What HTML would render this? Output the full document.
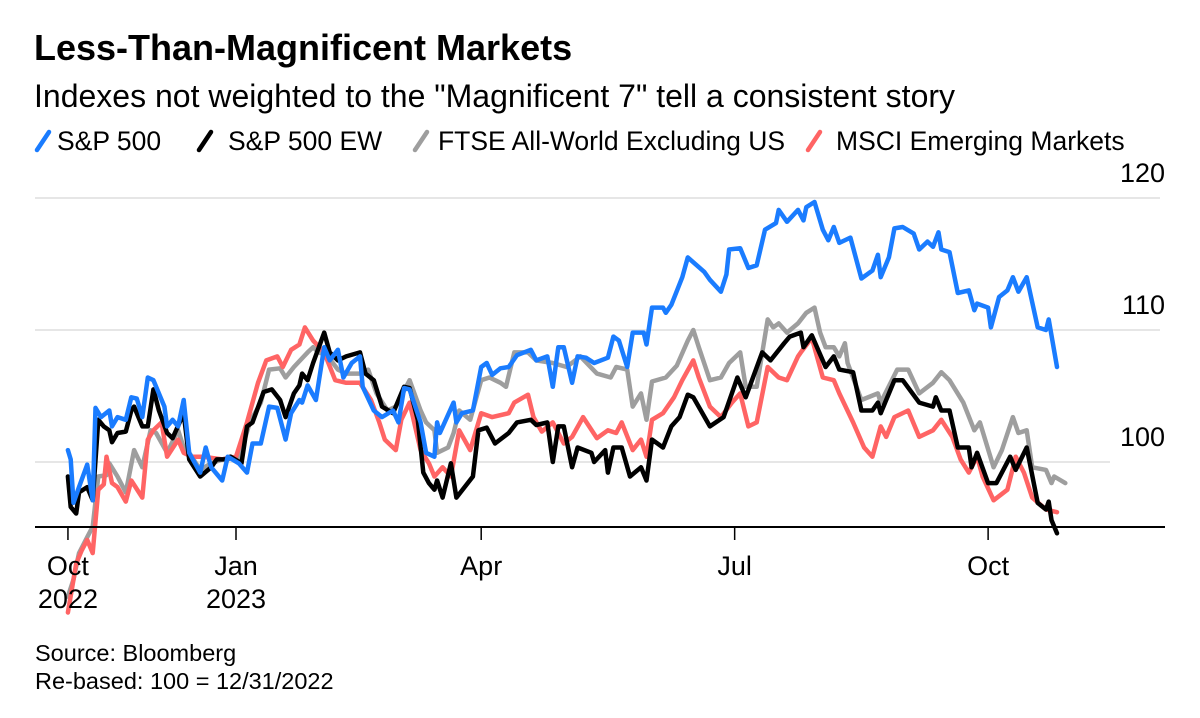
<!DOCTYPE html>
<html><head><meta charset="utf-8">
<style>
body{margin:0;background:#fff;width:1200px;height:713px;overflow:hidden;font-family:"Liberation Sans",Arial,sans-serif;}
svg text{font-family:"Liberation Sans",Arial,sans-serif;}
</style></head>
<body>
<svg id="chart" width="1200" height="713" viewBox="0 0 1200 713">
<text x="34" y="60" font-size="36" font-weight="bold" fill="#000">Less-Than-Magnificent Markets</text>
<text x="34" y="107" font-size="32" fill="#000">Indexes not weighted to the "Magnificent 7" tell a consistent story</text>
<g id="legend"></g>
<g id="grid"></g>
<g id="series"></g>
<g id="axes"></g>
<text x="35" y="661" font-size="23.5" fill="#000">Source: Bloomberg</text>
<text x="35" y="689" font-size="23.5" fill="#000">Re-based: 100 = 12/31/2022</text>
</svg>
<script>
// days relative to Jan 1 2023
const spxDays=[-61,-60,-59,-57,-54,-52,-51,-49,-46,-45,-43,-40,-38,-36,-34,-32,-30,-26,-25,-23,-21,-19,-17,-13,-11,-9,-5,-3,1,4,6,9,12,15,18,20,23,24,26,29,32,34,37,39,42,45,46,50,53,57,59,61,63,67,69,72,73,74,79,80,82,86,89,91,93,96,99,102,107,109,113,115,117,119,122,124,127,130,135,137,139,142,144,148,149,151,155,156,158,162,164,170,172,176,178,179,183,186,189,192,196,197,200,204,206,207,210,213,215,217,219,223,227,231,233,234,237,239,242,246,248,251,253,255,256,259,262,266,268,269,273,274,277,280,282,284,287,291,294,295,298];
const spxVals=[100.9,100.2,96.9,98.1,99.8,97.1,104.1,103.4,103.9,102.7,103.4,103.2,104.9,104.8,103.4,106.4,106.2,104.2,102.7,103.2,102.7,104.7,100.7,99.2,101.1,99.6,98.6,100.4,99.9,99.2,101.4,101.4,104.2,104.1,101.7,103.7,104.7,104.5,105.8,104.7,108.7,107.7,108.5,106.4,107.5,108.0,105.7,103.9,103.4,103.9,103.0,105.6,105.5,103.0,100.7,100.4,103.0,102.2,104.5,103.0,103.7,103.9,107.2,107.5,106.6,107.1,107.2,108.1,108.5,107.7,108.0,105.7,108.7,108.7,106.0,108.0,107.9,107.5,107.9,109.5,109.2,107.2,109.8,109.8,108.9,111.7,111.7,111.3,111.9,114.0,115.5,114.4,113.8,112.9,114.2,116.1,116.2,114.7,114.9,117.6,118.1,119.1,118.2,119.1,118.3,119.3,119.7,117.6,116.8,117.8,116.6,117.0,113.9,114.5,115.7,114.0,115.5,117.7,117.8,117.3,116.1,116.7,116.3,117.4,116.1,115.9,112.8,113.0,111.5,112.0,111.7,110.2,112.5,113.0,114.0,112.9,114.0,110.2,110.0,110.8,107.2];
const ewDays=[-61,-60,-58,-57,-54,-52,-50,-48,-46,-45,-43,-40,-38,-37,-34,-32,-30,-28,-25,-23,-19,-17,-13,-9,-7,-3,-2,2,4,6,10,13,16,18,21,23,24,26,28,32,34,37,40,45,47,50,53,57,61,63,66,68,70,72,73,75,78,80,86,88,91,94,99,102,107,109,113,115,117,119,122,124,129,130,134,135,137,140,143,147,149,151,155,158,161,164,166,172,177,182,185,191,194,199,201,205,206,209,214,217,219,224,227,231,233,234,239,242,248,253,254,256,259,262,266,267,269,273,276,281,283,287,291,294,295,296,298];
const ewVals=[98.9,96.6,96.1,97.7,98.1,97.1,103.2,102.7,102.4,101.5,102.2,102.3,103.9,104.2,102.7,102.7,105.5,103.9,102.2,101.8,103.7,100.2,98.9,99.6,100.2,100.2,100.4,99.9,102.7,103.0,105.3,105.5,104.7,103.4,105.2,105.8,106.7,106.2,107.5,109.8,108.3,107.7,108.0,108.3,106.7,106.2,104.2,103.7,105.7,105.6,103.2,99.2,98.4,97.9,98.6,97.3,99.9,97.3,98.9,102.4,102.6,101.4,102.2,103.0,103.2,102.8,103.0,100.0,102.7,102.7,99.6,101.1,100.7,100.0,100.9,99.2,101.1,101.1,98.9,99.6,98.6,101.7,101.1,102.7,103.4,105.1,104.9,102.7,103.4,106.4,104.9,108.3,107.7,109.0,109.5,109.8,108.7,109.6,107.2,108.0,107.0,106.8,103.9,103.9,104.5,103.7,106.2,106.2,104.5,104.2,104.9,103.9,103.9,101.1,101.1,99.6,100.7,98.4,98.4,100.4,99.4,101.1,96.9,96.4,97.0,95.6,94.6];
const ftseDays=[-61,-59,-57,-54,-52,-50,-47,-46,-43,-40,-37,-34,-31,-29,-25,-21,-19,-17,-13,-9,-2,1,5,9,12,16,18,21,26,28,30,33,37,40,45,48,51,55,58,63,67,69,72,73,77,79,81,85,89,92,96,98,101,106,109,115,120,125,131,136,138,142,144,147,149,151,156,160,164,166,168,172,176,179,183,185,189,193,195,197,200,204,207,210,212,214,217,219,221,222,227,233,234,240,244,248,253,256,259,264,268,270,275,278,282,284,287,289,294,296,297,301];
const ftseVals=[89.8,91.1,93.1,94.3,95.1,98.9,99.0,99.9,98.9,97.7,100.9,99.6,102.4,102.2,100.7,102.4,101.1,100.7,99.4,99.9,100.4,100.2,103.0,104.5,107.0,107.1,106.4,107.2,108.3,108.7,108.3,108.1,107.0,106.7,106.7,107.0,105.2,103.9,104.2,106.2,103.9,103.0,102.4,100.7,101.1,102.2,103.9,103.2,106.2,106.4,106.0,105.7,108.3,108.3,107.7,107.5,107.2,108.0,106.7,106.4,107.2,107.0,104.2,105.2,103.2,106.1,106.4,107.3,109.2,110.0,108.7,106.2,106.4,107.5,108.3,105.7,105.7,110.8,110.2,110.5,109.8,110.5,111.3,111.7,109.8,108.7,108.7,108.0,109.0,107.5,104.7,105.2,104.5,107.0,107.0,105.2,106.0,106.8,106.2,104.5,102.4,103.0,99.6,100.9,103.4,102.2,102.4,99.6,99.4,98.4,98.9,98.4];
const emDays=[-61,-58,-56,-54,-52,-50,-48,-47,-45,-43,-40,-38,-34,-32,-30,-27,-25,-21,-19,-16,-12,-5,0,4,8,11,15,17,20,23,25,28,32,36,40,45,49,52,54,58,60,63,67,70,72,75,78,81,85,89,93,99,101,106,108,111,115,119,122,126,131,135,138,140,144,147,149,151,155,159,162,166,168,172,176,180,183,186,189,193,197,200,204,205,209,213,217,219,224,228,231,234,236,239,244,248,253,256,260,263,266,269,271,275,280,283,286,289,294,298];
const emVals=[88.6,92.3,93.3,94.1,93.1,97.9,98.3,100.4,98.4,98.1,97.0,98.6,97.3,101.7,102.4,103.0,100.4,101.7,100.7,100.4,100.4,100.2,100.4,103.0,106.0,107.7,108.0,107.2,108.5,108.9,110.2,109.2,108.3,106.2,106.0,106.0,104.7,103.0,101.7,100.9,103.2,104.5,100.9,99.9,98.9,99.6,98.9,102.4,100.9,103.7,103.4,103.7,104.5,105.1,103.4,102.3,103.0,101.4,101.9,103.4,101.8,102.4,102.2,103.0,100.9,101.7,100.4,103.2,103.7,104.9,106.2,107.7,106.4,104.2,103.4,104.5,105.2,102.7,103.0,107.2,106.4,106.2,108.0,108.3,109.4,106.4,106.2,105.2,103.0,101.1,100.4,102.7,101.9,103.4,103.9,101.9,102.4,103.2,101.9,100.2,99.2,100.4,98.9,97.1,97.9,100.4,99.2,97.3,96.4,96.2];
const yTicks=[100,110,120];
const xTickDays=[-61,0,89,181,273];
const xTickLabels=[["Oct","2022"],["Jan","2023"],["Apr",""],["Jul",""],["Oct",""]];

const NS="http://www.w3.org/2000/svg";
function xS(d){return 236+d*2.755;}
function yS(v){return 462-(v-100)*13.2;}
function mk(tag,attrs,parent){const e=document.createElementNS(NS,tag);for(const k in attrs)e.setAttribute(k,attrs[k]);parent.appendChild(e);return e;}
const grid=document.getElementById('grid'),axes=document.getElementById('axes'),ser=document.getElementById('series'),leg=document.getElementById('legend');
yTicks.forEach(function(t){
  const l=mk('line',{x1:35,x2:t===100?1110:1160,y1:yS(t),y2:yS(t),stroke:'#e6e6e6','stroke-width':2},grid);
  
  
  const tx=mk('text',{x:1165,y:yS(t)-16,'text-anchor':'end','font-size':27,fill:'#000'},axes);
  tx.textContent=t;
  
  
});
const ax=mk('line',{x1:35,x2:1165,y1:527,y2:527,stroke:'#000','stroke-width':2},axes);


xTickDays.forEach(function(d,i){
  const tk=mk('line',{x1:xS(d),x2:xS(d),y1:527,y2:540,stroke:'#000','stroke-width':1.5},axes);
  
  
  const t1=mk('text',{x:xS(d),y:575,'text-anchor':'middle','font-size':27,fill:'#000'},axes);
  t1.textContent=xTickLabels[i][0];
  
  
  if(xTickLabels[i][1]){
    const t2=mk('text',{x:xS(d),y:608,'text-anchor':'middle','font-size':27,fill:'#000'},axes);
    t2.textContent=xTickLabels[i][1];
    
    
  }
});
const series=[
 {d:ftseDays,v:ftseVals,c:'#9e9e9e',n:'ftse-all-world-line'},
 {d:emDays,v:emVals,c:'#ff6464',n:'msci-em-line'},
 {d:ewDays,v:ewVals,c:'#000000',n:'sp500-ew-line'},
 {d:spxDays,v:spxVals,c:'#1a7cff',n:'sp500-line'}
];
series.forEach(function(s){
  const pts=s.d.map(function(d,i){return xS(d).toFixed(1)+','+yS(s.v[i]).toFixed(1);}).join(' ');
  const p=mk('polyline',{points:pts,fill:'none',stroke:s.c,'stroke-width':4.5,'stroke-linejoin':'round','stroke-linecap':'round'},ser);
  
  
});
const legendItems=[{x:35,tx:57,c:'#1a7cff',t:'S&P 500'},{x:197,tx:228,c:'#000',t:'S&P 500 EW'},{x:413,tx:438,c:'#9e9e9e',t:'FTSE All-World Excluding US'},{x:806,tx:836,c:'#ff6464',t:'MSCI Emerging Markets'}];
legendItems.forEach(function(it){
  const g=mk('g',{},leg);
  
  
  mk('line',{x1:it.x+2,y1:150,x2:it.x+14,y2:132,stroke:it.c,'stroke-width':4.5,'stroke-linecap':'round'},g);
  const t=mk('text',{x:it.tx,y:150,'font-size':26.5,fill:'#000'},g);
  t.textContent=it.t;
});
</script>
</body></html>
